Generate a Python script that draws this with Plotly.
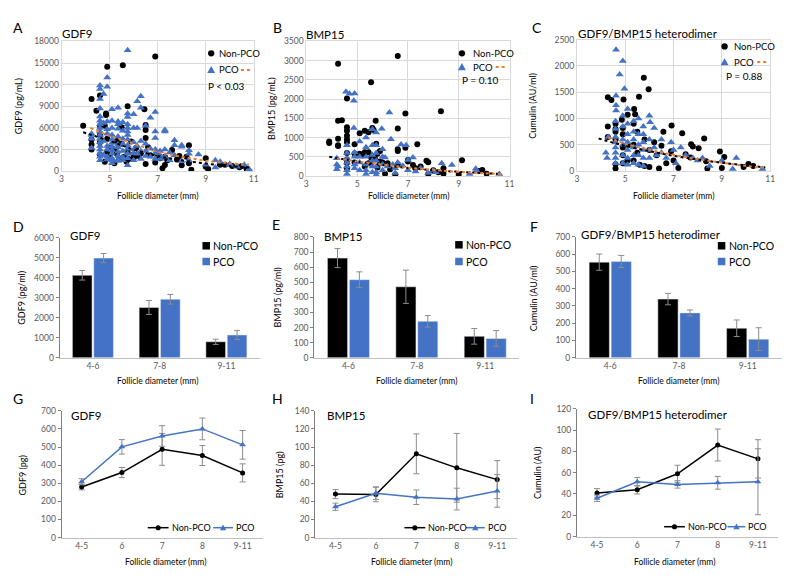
import plotly.graph_objects as go

# ------------------------------------------------------------------ data
# Row 1: individual follicles (diameter mm, concentration)
gdf9_non_pts = [(3.9,6300),(4.25,10000),(4.25,4400),(4.25,3700),(4.25,3000),(4.45,8400),(4.6,10500),(4.6,6300),
    (4.6,5000),(4.6,4000),(4.6,2300),(4.8,6300),(4.85,8000),(4.85,7800),(4.9,14500),(4.9,4500),(4.9,2700),(4.8,1300),
    (5.0,3200),(5.0,2000),(5.2,3000),(5.2,1100),(5.3,4200),(5.3,2400),(5.4,1800),(5.55,14700),(5.5,6100),(5.5,3800),
    (5.6,2000),(5.7,1300),(5.75,9000),(5.75,2600),(5.8,1700),(5.9,4100),(6.0,2300),(6.0,1800),(6.1,3200),(6.2,2100),
    (6.3,2500),(6.45,8600),(6.5,6400),(6.5,5700),(6.5,4600),(6.5,1000),(6.6,3300),(6.7,2200),(6.9,15900),(6.9,1200),
    (7.0,2100),(7.1,1800),(7.2,400),(7.3,860),(7.3,2000),(7.4,1500),(7.6,2950),(7.8,1600),(7.9,2100),(8.0,800),
    (8.2,2000),(8.3,3600),(8.3,1100),(8.4,200),(9.0,1800),(9.0,600),(9.1,300),(9.6,900),(9.8,900),(10.1,700),
    (10.4,550),(10.7,300),(10.5,700)]
gdf9_pco_pts = [(4.25,5200),(4.25,4500),(4.25,3200),(4.25,5000),
    (4.6,11900),(4.6,11400),(4.6,10000),(4.6,8700),(4.6,7600),(4.6,7000),(4.6,6500),(4.6,6000),(4.6,5500),(4.6,5000),
    (4.6,4500),(4.6,4000),(4.6,3500),(4.6,3000),(4.6,2500),(4.6,2000),(4.6,1500),
    (4.75,10700),(4.75,6700),(4.75,4200),(4.75,2200),
    (4.9,13000),(4.9,11700),(4.9,6900),(4.9,5800),(4.9,5200),(4.9,3500),(4.9,3000),(4.9,2000),(4.9,1600),
    (5.1,8600),(5.1,7000),(5.1,6000),(5.1,5000),(5.1,4400),(5.1,3900),(5.1,3400),(5.1,2900),(5.1,2400),(5.1,1800),
    (5.1,1500),(5.1,1100),
    (5.35,8800),(5.35,6900),(5.35,6500),(5.35,5900),(5.35,4800),(5.35,3700),(5.35,3300),(5.35,2700),(5.35,2100),
    (5.35,1600),(5.35,1400),
    (5.55,6800),(5.55,5600),(5.55,4500),(5.55,3800),(5.55,2800),(5.55,1900),(5.55,1500),
    (5.75,16800),(5.75,8000),(5.75,7500),(5.75,6500),(5.75,6000),(5.75,5500),(5.75,5000),(5.75,4400),(5.75,3600),
    (5.75,3100),(5.75,2400),(5.75,1800),(5.75,800),
    (6.0,7900),(6.0,6000),(6.0,4000),(6.0,3000),(6.0,2500),(6.0,1500),
    (6.15,9700),(6.15,6000),(6.15,3500),(6.15,2400),
    (6.3,10400),(6.3,8800),(6.3,4200),(6.3,2800),(6.3,1700),
    (6.5,6300),(6.5,3800),(6.5,2800),(6.5,2100),
    (6.7,7400),(6.7,3100),(6.7,2000),
    (6.9,8200),(6.9,5500),(6.9,4600),(6.9,3000),(6.9,2500),(6.9,1700),
    (7.1,2800),(7.1,2200),(7.1,1700),(7.3,5700),(7.3,5500),(7.3,3000),(7.3,2000),(7.5,2600),(7.5,1500),
    (7.7,4300),(7.7,3600),(7.7,2200),(8.0,3600),(8.0,3400),(8.0,1400),(8.3,2900),(8.3,1500),(8.3,2400),
    (8.7,2300),(9.0,900),(9.4,1500),(9.4,500),(9.6,1300),(10.0,1000),(10.0,900),(10.3,600),(10.6,900),
    (10.8,300),(10.8,200)]
gdf9_trend_non_x = [3.9, 5, 6, 7, 8, 9, 10, 10.8]
gdf9_trend_non_y = [5400, 4200, 3000, 2100, 1500, 1050, 700, 500]
gdf9_trend_pco_x = [4.2, 5, 5.7, 7, 8, 9, 10, 10.8]
gdf9_trend_pco_y = [6000, 4900, 4180, 2700, 2000, 1450, 1100, 900]

bmp15_non_pts = [(3.9,900),(3.9,860),(4.25,2920),(4.25,1440),(4.25,970),(4.25,800),(4.25,780),(4.4,1450),
    (4.6,2020),(4.6,1270),(4.6,1180),(4.6,1050),(4.6,950),(4.6,880),(4.6,600),(4.6,430),(4.6,340),(4.6,200),
    (4.9,830),(4.9,580),(4.9,350),(5.1,1110),(5.1,580),(5.2,540),(5.3,1180),(5.3,620),(5.3,250),(5.45,1140),
    (5.45,620),(5.45,330),(5.55,2440),(5.55,480),(5.6,1250),(5.65,1200),(5.7,470),(5.73,1440),(5.75,840),
    (5.8,580),(5.8,220),(5.9,650),(5.9,380),(6.0,350),(6.1,60),(6.2,330),(6.3,180),(6.5,40),(6.6,3120),
    (6.6,1235),(6.6,700),(6.6,650),(6.6,300),(6.9,1627),(6.9,733),(7.0,380),(7.0,420),(7.2,290),(7.3,200),
    (7.37,826),(7.5,250),(7.73,400),(7.8,360),(7.8,50),(8.0,150),(8.2,100),(8.3,1687),(8.4,200),(8.4,60),
    (9.0,40),(9.13,409),(9.8,130),(9.93,160),(10.1,60)]
bmp15_pco_pts = [(4.2,460),(4.2,300),(4.2,180),(4.25,250),(4.56,2190),(4.7,2140),(4.9,2150),(4.87,1960),
    (4.6,800),(4.6,600),(4.6,450),(4.6,350),(4.6,250),(4.6,150),(4.6,50),(4.87,1250),(4.9,620),(4.9,500),
    (4.9,300),(4.9,200),(5.1,900),(5.1,500),(5.1,350),(5.1,150),(5.35,1000),(5.35,750),(5.35,500),(5.35,300),
    (5.35,150),(5.35,50),(5.6,1220),(5.6,800),(5.6,550),(5.6,400),(5.6,250),(5.6,100),(5.75,1130),(5.75,800),
    (5.75,600),(5.75,400),(5.75,250),(5.75,100),(5.75,30),(5.97,1230),(6.0,700),(6.0,500),(6.0,300),(6.0,150),
    (6.1,480),(6.2,250),(6.27,1650),(6.33,955),(6.4,300),(6.5,200),(6.5,80),(6.6,350),(6.73,820),(6.93,800),
    (6.8,270),(7.0,150),(7.2,485),(7.0,420),(7.3,120),(7.5,200),(7.8,80),(8.0,150),(8.33,330),(8.1,100),
    (8.73,290),(9.43,50),(9.67,190),(9.7,140),(10.6,50)]
bmp15_trend_non_x = [3.9, 5, 6, 7, 8, 9, 10, 10.7]
bmp15_trend_non_y = [500, 380, 290, 210, 150, 110, 75, 55]
bmp15_trend_pco_x = [4.2, 5, 6, 7, 8, 9, 10, 10.7]
bmp15_trend_pco_y = [460, 380, 300, 220, 160, 110, 75, 55]

cum_non_pts = [(4.28,1405),(4.43,1350),(4.28,846),(4.28,650),(4.6,900),(4.6,800),(4.6,750),(4.6,600),(4.6,130),
    (4.6,50),(4.86,976),(4.93,1362),(4.9,820),(4.9,700),(4.9,450),(4.9,300),(4.9,150),(5.1,1070),(5.1,500),
    (5.1,200),(5.37,1182),(5.41,1082),(5.35,900),(5.35,500),(5.35,200),(5.57,1412),(5.5,750),(5.5,350),(5.6,120),
    (5.77,1773),(5.97,1555),(5.8,600),(5.8,100),(6.0,400),(6.0,80),(6.2,550),(6.3,300),(6.4,50),(6.58,746),
    (6.5,480),(6.7,150),(6.92,865),(6.9,380),(7.0,200),(7.2,60),(7.36,722),(7.5,320),(7.7,260),(7.73,510),
    (7.8,470),(8.04,435),(8.27,622),(8.35,187),(8.4,50),(8.92,373),(9.1,267),(9.0,60),(9.9,80),(10.1,137),
    (10.3,100)]
cum_pco_pts = [(4.2,350),(4.25,250),(4.3,650),(4.62,2307),(4.9,2090),(4.77,1835),(4.97,1567),(4.62,1430),
    (4.62,1250),(4.62,1150),(4.6,950),(4.6,800),(4.6,650),(4.6,550),(4.6,450),(4.6,350),(4.6,250),(4.6,150),
    (4.9,1050),(4.9,850),(4.9,600),(4.9,500),(4.9,300),(4.9,150),(5.1,1180),(5.1,900),(5.1,700),(5.1,550),
    (5.1,400),(5.1,250),(5.1,120),(5.35,950),(5.35,750),(5.35,600),(5.35,450),(5.35,300),(5.35,150),(5.55,1000),
    (5.55,700),(5.55,500),(5.55,300),(5.55,120),(5.75,850),(5.75,700),(5.75,550),(5.75,400),(5.75,250),
    (5.75,100),(6.0,1050),(6.0,600),(6.0,400),(6.0,250),(6.03,927),(6.2,820),(6.2,450),(6.3,300),(6.5,600),
    (6.5,350),(6.7,250),(6.9,550),(7.0,400),(7.1,150),(7.3,450),(7.5,300),(7.8,250),(8.0,200),(8.2,250),
    (8.5,100),(9.0,200),(9.45,40),(9.6,250),(10.68,40)]
cum_trend_non_x = [3.9, 5, 6, 7, 8, 9, 10, 10.8]
cum_trend_non_y = [620, 480, 380, 290, 220, 160, 110, 70]
cum_trend_pco_x = [4.3, 5, 6, 7, 8, 9, 10, 10.8]
cum_trend_pco_y = [640, 520, 410, 310, 230, 160, 100, 60]

# Row 2: size-class means +/- SEM
bar_cats = ["4-6", "7-8", "9-11"]
gdf9_bar_non = [4130, 2520, 800];   gdf9_bar_non_err = [240, 350, 130]
gdf9_bar_pco = [4990, 2930, 1140];  gdf9_bar_pco_err = [230, 240, 230]
bmp15_bar_non = [660, 470, 142];    bmp15_bar_non_err = [63, 110, 52]
bmp15_bar_pco = [517, 241, 128];    bmp15_bar_pco_err = [52, 38, 52]
cum_bar_non = [554, 340, 171];      cum_bar_non_err = [47, 33, 48]
cum_bar_pco = [558, 260, 108];      cum_bar_pco_err = [35, 17, 66]

# Row 3: amount per follicle
line_cats = ["4-5", "6", "7", "8", "9-11"]
gdf9_line_non = [279, 359, 487, 453, 357];   gdf9_line_non_err = [16, 28, 88, 55, 50]
gdf9_line_pco = [308, 501, 561, 600, 512];   gdf9_line_pco_err = [17, 40, 57, 60, 79]
bmp15_line_non = [48, 47.5, 92.5, 77, 64];   bmp15_line_non_err = [5, 8, 22, 38, 21]
bmp15_line_pco = [34, 49, 44.5, 42.5, 51.5]; bmp15_line_pco_err = [4, 7, 8, 12, 18]
cum_line_non = [41, 44, 59, 86, 73];          cum_line_non_err = [4, 4, 8, 15, 18]
cum_line_pco = [36, 51.5, 49, 50.5, 51.5];    cum_line_pco_err = [3, 4, 3.5, 6, 31]

# ------------------------------------------------------------------ style
OFF = 8                       # page body margin
W, H = 800 - 2 * OFF, 579 - 2 * OFF
def px(x): return (x - OFF) / W
def py(y): return 1 - (y - OFF) / H

BLUE = "#4472C4"
ORANGE = "#ED7D31"
GRID = "#d9d9d9"
TICK = "#595959"
ERR = "#8c8c8c"
FONT = "Lato, 'Liberation Sans', sans-serif"

fig = go.Figure()

def ax(k):
    return ("x" if k == 1 else f"x{k}"), ("y" if k == 1 else f"y{k}")

def unz(pts):
    return [p[0] for p in pts], [p[1] for p in pts]

# ---- scatter panels
scatter_sets = [
    (1, gdf9_non_pts, gdf9_pco_pts, gdf9_trend_non_x, gdf9_trend_non_y, gdf9_trend_pco_x, gdf9_trend_pco_y),
    (2, bmp15_non_pts, bmp15_pco_pts, bmp15_trend_non_x, bmp15_trend_non_y, bmp15_trend_pco_x, bmp15_trend_pco_y),
    (3, cum_non_pts, cum_pco_pts, cum_trend_non_x, cum_trend_non_y, cum_trend_pco_x, cum_trend_pco_y),
]
for k, non, pco, tnx, tny, tpx, tpy in scatter_sets:
    xa, ya = ax(k)
    nx, ny = unz(non)
    cx, cy = unz(pco)
    fig.add_trace(go.Scatter(x=nx, y=ny, mode="markers", name="Non-PCO", xaxis=xa, yaxis=ya, showlegend=False,
                             marker=dict(symbol="circle", size=6, color="black")))
    fig.add_trace(go.Scatter(x=cx, y=cy, mode="markers", name="PCO", xaxis=xa, yaxis=ya, showlegend=False,
                             marker=dict(symbol="triangle-up", size=7, color=BLUE)))
    fig.add_trace(go.Scatter(x=tnx, y=tny, mode="lines", showlegend=False, xaxis=xa, yaxis=ya,
                             line=dict(color="black", width=2, dash="dot", shape="spline")))
    fig.add_trace(go.Scatter(x=tpx, y=tpy, mode="lines", showlegend=False, xaxis=xa, yaxis=ya,
                             line=dict(color=ORANGE, width=2, dash="dot", shape="spline")))

# ---- bar panels
bar_sets = [
    (4, gdf9_bar_non, gdf9_bar_non_err, gdf9_bar_pco, gdf9_bar_pco_err),
    (5, bmp15_bar_non, bmp15_bar_non_err, bmp15_bar_pco, bmp15_bar_pco_err),
    (6, cum_bar_non, cum_bar_non_err, cum_bar_pco, cum_bar_pco_err),
]
for k, nv, ne, cv, ce in bar_sets:
    xa, ya = ax(k)
    fig.add_trace(go.Bar(x=bar_cats, y=nv, name="Non-PCO", xaxis=xa, yaxis=ya, showlegend=False,
                         marker=dict(color="black"),
                         error_y=dict(type="data", array=ne, color=ERR, thickness=1, width=3)))
    fig.add_trace(go.Bar(x=bar_cats, y=cv, name="PCO", xaxis=xa, yaxis=ya, showlegend=False,
                         marker=dict(color=BLUE),
                         error_y=dict(type="data", array=ce, color=ERR, thickness=1, width=3)))

# ---- line panels
line_sets = [
    (7, gdf9_line_non, gdf9_line_non_err, gdf9_line_pco, gdf9_line_pco_err),
    (8, bmp15_line_non, bmp15_line_non_err, bmp15_line_pco, bmp15_line_pco_err),
    (9, cum_line_non, cum_line_non_err, cum_line_pco, cum_line_pco_err),
]
for k, nv, ne, cv, ce in line_sets:
    xa, ya = ax(k)
    fig.add_trace(go.Scatter(x=line_cats, y=nv, name="Non-PCO", mode="lines+markers", xaxis=xa, yaxis=ya,
                             showlegend=False, line=dict(color="black", width=1.5),
                             marker=dict(symbol="circle", size=5, color="black"),
                             error_y=dict(type="data", array=ne, color=ERR, thickness=1, width=3)))
    fig.add_trace(go.Scatter(x=line_cats, y=cv, name="PCO", mode="lines+markers", xaxis=xa, yaxis=ya,
                             showlegend=False, line=dict(color=BLUE, width=1.5),
                             marker=dict(symbol="triangle-up", size=6, color=BLUE),
                             error_y=dict(type="data", array=ce, color=ERR, thickness=1, width=3)))

# ------------------------------------------------------------------ axes
# pixel boxes in the page: (x0, x1, ytop, ybottom)
boxes = {
    1: (60, 254, 37, 169), 2: (307, 512, 37, 174), 3: (580, 775, 35, 169),
    4: (58, 260, 237, 359), 5: (315, 522, 236, 359), 6: (579, 787, 236, 359),
    7: (60, 263, 413, 542), 8: (316, 520, 413, 542), 9: (580, 783, 411, 541),
}
yranges = {1: (0, 18000, 3000), 2: (0, 3500, 500), 3: (0, 2500, 500),
           4: (0, 6000, 1000), 5: (0, 800, 100), 6: (0, 700, 100),
           7: (0, 700, 100), 8: (0, 140, 20), 9: (0, 120, 20)}
tickfont = dict(family=FONT, size=8.5, color=TICK)
layout = dict(width=W, height=H, margin=dict(l=0, r=0, t=0, b=0),
              paper_bgcolor="white", plot_bgcolor="white", showlegend=False,
              barmode="group", bargap=0.36, bargroupgap=0.08,
              font=dict(family=FONT, color="black"))
for k, (x0, x1, yt, yb) in boxes.items():
    xk = "xaxis" if k == 1 else f"xaxis{k}"
    yk = "yaxis" if k == 1 else f"yaxis{k}"
    xa, ya = ax(k)
    lo, hi, dt = yranges[k]
    if k <= 3:
        layout[xk] = dict(domain=[px(x0), px(x1)], anchor=ya, range=[3, 11.0001], dtick=2, tick0=3,
                          showgrid=True, gridcolor=GRID, gridwidth=1, showline=True, mirror=True,
                          linecolor=GRID, zeroline=False, ticks="", tickfont=tickfont)
        layout[yk] = dict(domain=[py(yb), py(yt)], anchor=xa, range=[lo, hi * 1.0001], dtick=dt, tick0=0,
                          tickformat="d", showgrid=True, gridcolor=GRID, gridwidth=1, showline=True,
                          mirror=True, linecolor=GRID, zeroline=False, ticks="", tickfont=tickfont)
    else:
        cats = bar_cats if k <= 6 else line_cats
        layout[xk] = dict(domain=[px(x0), px(x1)], anchor=ya, type="category",
                          range=[-0.5, len(cats) - 0.5], showgrid=False, showline=True,
                          linecolor="#bfbfbf", linewidth=1, ticks="", zeroline=False, tickfont=tickfont)
        layout[yk] = dict(domain=[py(yb), py(yt)], anchor=xa, range=[lo, hi * 1.0001], dtick=dt, tick0=0,
                          tickformat="d", showgrid=False, showline=True, linecolor="#7f7f7f", linewidth=1,
                          ticks="outside", ticklen=3, tickcolor="#7f7f7f", zeroline=False,
                          tickfont=tickfont)
fig.update_layout(**layout)

# ------------------------------------------------------------------ text
ann = []
def text(x, y, s, size, angle=0, xanchor="left", yanchor="middle", color="black"):
    ann.append(dict(x=px(x), y=py(y), xref="paper", yref="paper", text=s, showarrow=False,
                    xanchor=xanchor, yanchor=yanchor, textangle=angle, borderpad=0,
                    font=dict(family=FONT, size=size, color=color)))

for s, x, y in [("A", 10, 23), ("B", 272, 23), ("C", 534, 23), ("D", 10, 225), ("E", 271, 223),
                ("F", 532, 225), ("G", 10, 400), ("H", 271, 400), ("I", 532, 400)]:
    text(x, y, s, 14)
for s, x, y in [("GDF9", 59, 29), ("BMP15", 306, 30), ("GDF9/BMP15 heterodimer", 580, 29),
                ("GDF9", 68, 235), ("BMP15", 324, 236), ("GDF9/BMP15 heterodimer", 583, 233),
                ("GDF9", 69, 418), ("BMP15", 327, 418), ("GDF9/BMP15 heterodimer", 590, 417)]:
    text(x, y, s, 11.5)
for s, x, y in [("GDF9 (pg/mL)", 16, 103), ("BMP15 (pg/mL)", 272, 105), ("Cumulin (AU/ml)", 535, 102),
                ("GDF9 (pg/ml)", 20, 298), ("BMP15 (pg/ml)", 278, 298), ("Cumulin (AU/ml)", 537, 298),
                ("GDF9 (pg)", 21, 478), ("BMP15 (pg)", 280, 478), ("Cumulin (AU)", 540, 476)]:
    text(x, y, s, 9, angle=-90, xanchor="center")
for x, y in [(157, 194), (410, 194), (677, 194), (157, 383), (418, 383), (683, 383),
             (165, 567), (413, 567), (678, 567)]:
    text(x, y, "Follicle diameter (mm)", 8.5, xanchor="center")
for s, x, y in [("P < 0.03", 207, 82), ("P = 0.10", 463, 76), ("P = 0.88", 729, 72)]:
    text(x, y, s, 10)

# ------------------------------------------------------------------ legends (drawn keys + text)
shapes = []
def circ(x, y, r, color):
    shapes.append(dict(type="circle", xref="paper", yref="paper", x0=px(x - r), x1=px(x + r),
                       y0=py(y + r), y1=py(y - r), fillcolor=color, line=dict(width=0)))
def tri(x, y, r, color):
    path = (f"M {px(x - r)} {py(y + r * 0.8)} L {px(x + r)} {py(y + r * 0.8)} "
            f"L {px(x)} {py(y - r)} Z")
    shapes.append(dict(type="path", xref="paper", yref="paper", path=path, fillcolor=color,
                       line=dict(width=0)))
def sq(x, y, r, color):
    shapes.append(dict(type="rect", xref="paper", yref="paper", x0=px(x - r), x1=px(x + r),
                       y0=py(y + r), y1=py(y - r), fillcolor=color, line=dict(width=0)))
def hline(x0, x1, y, color, dash="solid", width=1.5):
    shapes.append(dict(type="line", xref="paper", yref="paper", x0=px(x0), x1=px(x1),
                       y0=py(y), y1=py(y), line=dict(color=color, width=width, dash=dash)))

# scatter legends: (marker x, text x, y non, y pco, dash x0)
for mx, tx, yn, yp, dx in [(211, 218, 49, 66, 241), (464, 474, 49, 63, 498), (729, 738, 42, 58, 762)]:
    circ(mx, yn, 3.2, "black")
    tri(mx, yp, 4, BLUE)
    text(tx, yn, "Non-PCO", 9.5)
    text(tx, yp, "PCO", 9.5)
    hline(dx, dx + 10, yp, ORANGE, dash="dot", width=2)

# bar legends
for mx, tx, yn, yp in [(206, 212, 245, 261), (461, 467, 244, 261), (726, 732, 245, 261)]:
    sq(mx, yn, 3.8, "black")
    sq(mx, yp, 3.8, BLUE)
    text(tx, yn, "Non-PCO", 10.5)
    text(tx, yp, "PCO", 10.5)

# line legends: (line1 x0, line1 x1, text1 x, line2 x0, line2 x1, text2 x, y)
for a0, a1, t1, b0, b1, t2, y in [(147, 168, 170, 213, 233, 235, 532),
                                  (406, 427, 429, 468, 487, 489, 532),
                                  (668, 689, 691, 732, 750, 752, 531)]:
    hline(a0, a1, y, "black")
    circ((a0 + a1) / 2, y, 2.6, "black")
    text(t1, y, "Non-PCO", 9)
    hline(b0, b1, y, BLUE)
    tri((b0 + b1) / 2, y, 3.2, BLUE)
    text(t2, y, "PCO", 9)

fig.update_layout(annotations=ann, shapes=shapes)
fig.write_html("out.html")
